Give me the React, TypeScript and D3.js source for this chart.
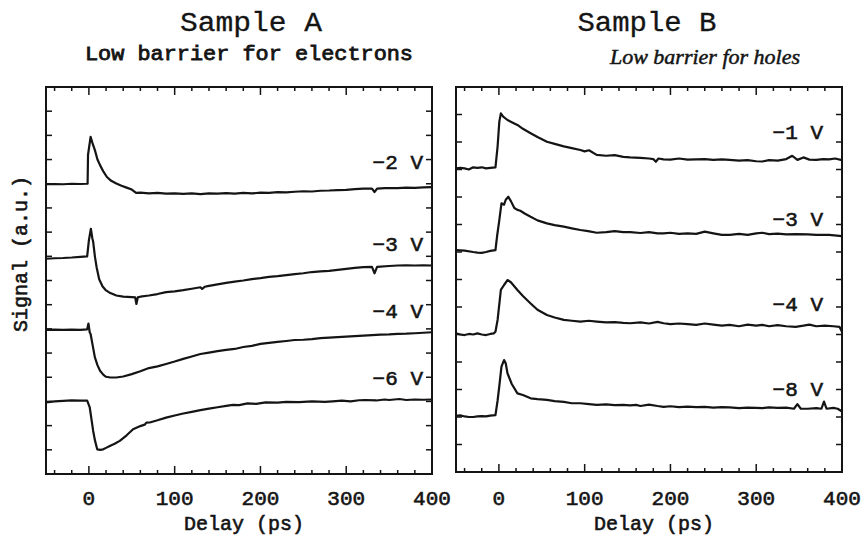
import React from "react";
import * as d3 from "d3";

type P = [number, number];

// ---------- Sample A (left) ----------
const aM2: P[] = [[-50,11.98],[-40,11.99],[-30,11.98],[-20,12.0],[-10,11.99],[-2,12.0],[-1.5,12.0],[-1,13.2],[2,13.94],[4,13.7],[7,13.39],[10,13.0],[13,12.77],[17,12.5],[21,12.28],[26,12.12],[32,12.01],[38,11.92],[44,11.84],[50,11.76],[55,11.62],[60,11.63],[70,11.6],[80,11.62],[90,11.59],[100,11.6],[110,11.58],[120,11.6],[130,11.57],[140,11.6],[150,11.59],[160,11.61],[170,11.59],[180,11.62],[190,11.6],[200,11.63],[210,11.62],[220,11.65],[230,11.64],[240,11.67],[250,11.69],[260,11.68],[270,11.71],[280,11.72],[290,11.74],[300,11.75],[310,11.78],[320,11.8],[330,11.8],[333,11.66],[336,11.8],[345,11.82],[360,11.82],[370,11.84],[380,11.83],[390,11.85],[400,11.86]];
const aM3: P[] = [[-50,8.9],[-40,8.92],[-30,8.93],[-20,8.95],[-10,8.98],[-2,9.0],[0,9.66],[2.3,10.14],[4,9.75],[5,9.6],[7,9.0],[9,8.55],[12,8.05],[16,7.75],[20,7.59],[25,7.48],[32,7.38],[40,7.33],[50,7.31],[54,7.3],[55.4,7.03],[57,7.3],[60,7.33],[70,7.38],[80,7.44],[90,7.52],[100,7.55],[110,7.6],[120,7.66],[130,7.72],[132,7.65],[135,7.74],[140,7.78],[150,7.84],[160,7.9],[170,7.95],[180,8.0],[190,8.06],[200,8.1],[210,8.15],[220,8.18],[230,8.22],[240,8.26],[250,8.3],[260,8.35],[270,8.38],[280,8.4],[290,8.44],[300,8.48],[310,8.52],[320,8.55],[330,8.56],[333,8.3],[336,8.56],[350,8.6],[360,8.62],[370,8.63],[380,8.62],[390,8.63],[400,8.62]];
const aM4: P[] = [[-50,5.96],[-40,5.97],[-30,5.96],[-20,5.97],[-10,5.96],[-2,5.98],[-0.5,6.22],[1,5.85],[2,5.79],[4,5.4],[7,4.82],[10,4.5],[13,4.27],[17,4.1],[20,4.02],[25,3.99],[32,3.99],[40,4.03],[50,4.13],[60,4.25],[70,4.38],[80,4.45],[90,4.55],[100,4.65],[110,4.76],[120,4.86],[130,4.96],[140,5.02],[150,5.08],[160,5.13],[170,5.17],[180,5.25],[190,5.3],[200,5.38],[210,5.42],[220,5.46],[230,5.5],[240,5.54],[250,5.55],[260,5.58],[270,5.62],[280,5.64],[290,5.66],[300,5.68],[310,5.7],[320,5.72],[330,5.74],[340,5.76],[350,5.77],[360,5.79],[370,5.8],[380,5.82],[390,5.84],[400,5.86]];
const aM6: P[] = [[-50,2.96],[-40,3.0],[-30,3.02],[-20,3.04],[-10,3.03],[-2,3.03],[1,2.75],[5,1.78],[7,1.4],[9.7,1.02],[13,1.0],[16.7,1.02],[20,1.08],[24.4,1.16],[30,1.25],[36,1.37],[44,1.6],[51.5,1.85],[60,1.98],[65,2.04],[67,2.12],[71,2.13],[80,2.22],[90,2.33],[100,2.42],[110,2.5],[120,2.57],[130,2.64],[140,2.7],[150,2.76],[160,2.82],[168,2.86],[175,2.85],[185,2.92],[195,2.9],[206,2.96],[220,2.95],[230,2.98],[245,2.97],[260,3.0],[275,2.98],[284,3.0],[295,3.03],[305,3.0],[315,3.05],[322,3.06],[335,3.04],[345,3.08],[350,3.06],[362,3.1],[370,3.06],[380,3.08],[390,3.07],[400,3.08]];

// ---------- Sample B (right) ----------
const bM1: P[] = [[-50,11.04],[-45,11.06],[-40,11.04],[-35,11.0],[-30,11.08],[-25,11.06],[-20,11.08],[-15,11.04],[-10,11.06],[-4,11.08],[-1.5,11.84],[0.5,12.74],[2.3,13.04],[5,12.92],[10,12.8],[15,12.72],[21.6,12.62],[28,12.48],[37,12.32],[45,12.18],[56,12.01],[65,11.93],[75.7,11.84],[85,11.78],[95,11.71],[100,11.66],[105,11.7],[114,11.53],[125,11.5],[135,11.52],[145,11.46],[153,11.44],[165,11.42],[175,11.4],[180,11.38],[183,11.28],[186,11.4],[192,11.37],[200,11.36],[210,11.4],[220,11.36],[230,11.37],[240,11.38],[250,11.35],[260,11.37],[269,11.35],[280,11.32],[290,11.34],[300,11.3],[307,11.29],[315,11.34],[325,11.32],[335,11.38],[342,11.5],[348,11.35],[355,11.44],[362,11.36],[370,11.35],[378,11.38],[385,11.37],[392,11.4],[400,11.34]];
const bM3: P[] = [[-50,8.07],[-40,8.05],[-30,8.0],[-25,7.98],[-20,7.97],[-15,8.0],[-10,8.04],[-4,8.07],[-2,8.6],[0.5,9.16],[3,9.77],[6,9.72],[8,9.9],[11,10.01],[14,9.85],[18,9.6],[21.6,9.53],[25,9.5],[30,9.4],[37,9.28],[45,9.15],[56,9.04],[65,8.98],[75.7,8.92],[85,8.86],[95,8.8],[104,8.76],[114,8.7],[125,8.72],[135,8.76],[145,8.72],[153,8.72],[165,8.69],[175,8.72],[185,8.68],[192,8.68],[200,8.7],[210,8.66],[220,8.68],[230,8.66],[240,8.74],[250,8.68],[260,8.62],[269,8.62],[280,8.66],[290,8.62],[300,8.68],[307,8.7],[315,8.65],[325,8.67],[335,8.64],[346,8.65],[360,8.64],[370,8.62],[385,8.62],[400,8.58]];
const bM4: P[] = [[-50,5.04],[-45,5.0],[-40,4.98],[-35,5.02],[-30,5.0],[-25,5.04],[-20,5.0],[-15,4.98],[-10,5.02],[-6,5.04],[-4,5.1],[-1.5,5.53],[2.3,6.62],[6,6.8],[10,6.98],[14,6.9],[21.6,6.62],[28,6.4],[37,6.13],[45,5.9],[56,5.71],[65,5.62],[75.7,5.53],[85,5.5],[95,5.47],[105,5.5],[114,5.47],[125,5.44],[135,5.45],[145,5.42],[153,5.41],[165,5.44],[175,5.4],[185,5.46],[192,5.41],[200,5.38],[210,5.4],[220,5.38],[230,5.35],[240,5.4],[250,5.36],[260,5.32],[269,5.35],[280,5.3],[290,5.36],[300,5.32],[307,5.35],[315,5.3],[325,5.34],[335,5.3],[346,5.28],[355,5.32],[362,5.36],[370,5.3],[380,5.32],[390,5.3],[397,5.28],[400,5.1]];
const bM8: P[] = [[-50,2.04],[-45,2.06],[-40,2.02],[-35,2.0],[-30,2.0],[-25,2.02],[-20,2.03],[-15,2.02],[-10,2.05],[-4,2.07],[-1.5,2.6],[0.4,3.1],[3,3.83],[6,4.07],[8,3.95],[10,3.59],[15,3.2],[21.6,2.86],[28,2.8],[37,2.68],[45,2.65],[56,2.62],[65,2.58],[75.7,2.55],[85,2.5],[95,2.5],[105,2.47],[114,2.44],[125,2.46],[135,2.43],[145,2.44],[153,2.42],[160,2.44],[165,2.4],[175,2.45],[185,2.4],[192,2.37],[200,2.39],[210,2.36],[220,2.38],[230,2.36],[240,2.37],[250,2.34],[260,2.36],[269,2.35],[280,2.32],[290,2.34],[300,2.33],[307,2.32],[315,2.35],[325,2.33],[335,2.34],[344,2.3],[348,2.47],[352,2.3],[360,2.3],[370,2.32],[376,2.3],[379,2.56],[382,2.3],[390,2.33],[395,2.3],[400,2.2]];

const xTickLabels = [0, 100, 200, 300, 400];
const curvesA = [aM2, aM3, aM4, aM6];
const curvesB = [bM1, bM3, bM4, bM8];
const labelsA = ["\u22122 V", "\u22123 V", "\u22124 V", "\u22126 V"];
const labelsB = ["\u22121 V", "\u22123 V", "\u22124 V", "\u22128 V"];
const labelValsA = [12.6, 9.2, 6.45, 3.7];
const labelValsB = [12.1, 8.95, 5.85, 2.75];

const FONT = "'Liberation Mono', 'DejaVu Sans Mono', monospace";
const INK = "#141414";
const heavy = { stroke: INK, strokeWidth: 0.6 } as const;

interface PanelProps {
  left: number; right: number; top: number; bottom: number;
  yMax: number; curves: P[][]; labels: string[]; labelVals: number[];
  labelRight: number;
}

function Panel(p: PanelProps) {
  const x = d3.scaleLinear().domain([-50, 400]).range([p.left, p.right]);
  const y = d3.scaleLinear().domain([0, p.yMax]).range([p.bottom, p.top]);
  const line = d3.line<P>().x(d => x(d[0])).y(d => y(d[1]));
  const minor = d3.range(-40, 401, 20).filter(v => v % 100 !== 0);
  const major = d3.range(0, 401, 100);
  const yT = d3.range(1, p.yMax, 1);
  return (
    <g>
      <rect x={p.left} y={p.top} width={p.right - p.left} height={p.bottom - p.top}
        fill="none" stroke={INK} strokeWidth={2} />
      {minor.map(v => (
        <g key={"mi" + v}>
          <line x1={x(v)} x2={x(v)} y1={p.bottom} y2={p.bottom - 4} stroke={INK} strokeWidth={1.5} />
          <line x1={x(v)} x2={x(v)} y1={p.top} y2={p.top + 4} stroke={INK} strokeWidth={1.5} />
        </g>
      ))}
      {major.map(v => (
        <g key={"ma" + v}>
          <line x1={x(v)} x2={x(v)} y1={p.bottom} y2={p.bottom - 8} stroke={INK} strokeWidth={1.5} />
          <line x1={x(v)} x2={x(v)} y1={p.top} y2={p.top + 8} stroke={INK} strokeWidth={1.5} />
        </g>
      ))}
      {yT.map(v => (
        <g key={"y" + v}>
          <line x1={p.left} x2={p.left + 6} y1={y(v)} y2={y(v)} stroke={INK} strokeWidth={1.5} />
          <line x1={p.right} x2={p.right - 6} y1={y(v)} y2={y(v)} stroke={INK} strokeWidth={1.5} />
        </g>
      ))}
      {xTickLabels.map(v => (
        <text key={"xl" + v} x={x(v)} y={505} textAnchor="middle" fontFamily={FONT}
          fontSize={21} fill={INK} {...heavy}>{v}</text>
      ))}
      <text x={(p.left + p.right) / 2 + 5} y={530} textAnchor="middle" fontFamily={FONT}
        fontSize={20} fill={INK} {...heavy}>Delay (ps)</text>
      {p.curves.map((c, i) => (
        <path key={"c" + i} d={line(c) || ""} fill="none" stroke={INK} strokeWidth={2.2}
          strokeLinejoin="round" />
      ))}
      {p.labels.map((l, i) => (
        <text key={"l" + i} x={p.labelRight} y={y(p.labelVals[i])} textAnchor="end"
          fontFamily={FONT} fontSize={21} fill={INK} {...heavy}>{l}</text>
      ))}
    </g>
  );
}

export default function App() {
  return (
    <svg width={868} height={537} style={{ position: "absolute", left: 0, top: 0, background: "#fff" }}>
      <rect width={868} height={537} fill="#fff" />
      <text x={251} y={31} textAnchor="middle" fontFamily={FONT} fontSize={27} fill={INK}
        textLength={142} lengthAdjust="spacingAndGlyphs" stroke={INK} strokeWidth={0.3}>Sample A</text>
      <text x={249} y={60} textAnchor="middle" fontFamily={FONT} fontSize={20} fill={INK}
        stroke={INK} strokeWidth={0.8} textLength={328} lengthAdjust="spacingAndGlyphs">Low barrier for electrons</text>
      <text x={647} y={31} textAnchor="middle" fontFamily={FONT} fontSize={27} fill={INK}
        textLength={139} lengthAdjust="spacingAndGlyphs" stroke={INK} strokeWidth={0.3}>Sample B</text>
      <text x={705} y={64} textAnchor="middle" fontFamily="'Liberation Serif', serif"
        fontStyle="italic" fontSize={22} fill={INK} stroke={INK} strokeWidth={0.5}>Low barrier for holes</text>
      <text transform="translate(27,254) rotate(-90)" textAnchor="middle" fontFamily={FONT}
        fontSize={20} fill={INK} {...heavy}>Signal (a.u.)</text>
      <Panel left={46} right={432} top={87} bottom={474} yMax={16} curves={curvesA}
        labels={labelsA} labelVals={labelValsA} labelRight={423} />
      <Panel left={456} right={842} top={87} bottom={472} yMax={14} curves={curvesB}
        labels={labelsB} labelVals={labelValsB} labelRight={823} />
    </svg>
  );
}
